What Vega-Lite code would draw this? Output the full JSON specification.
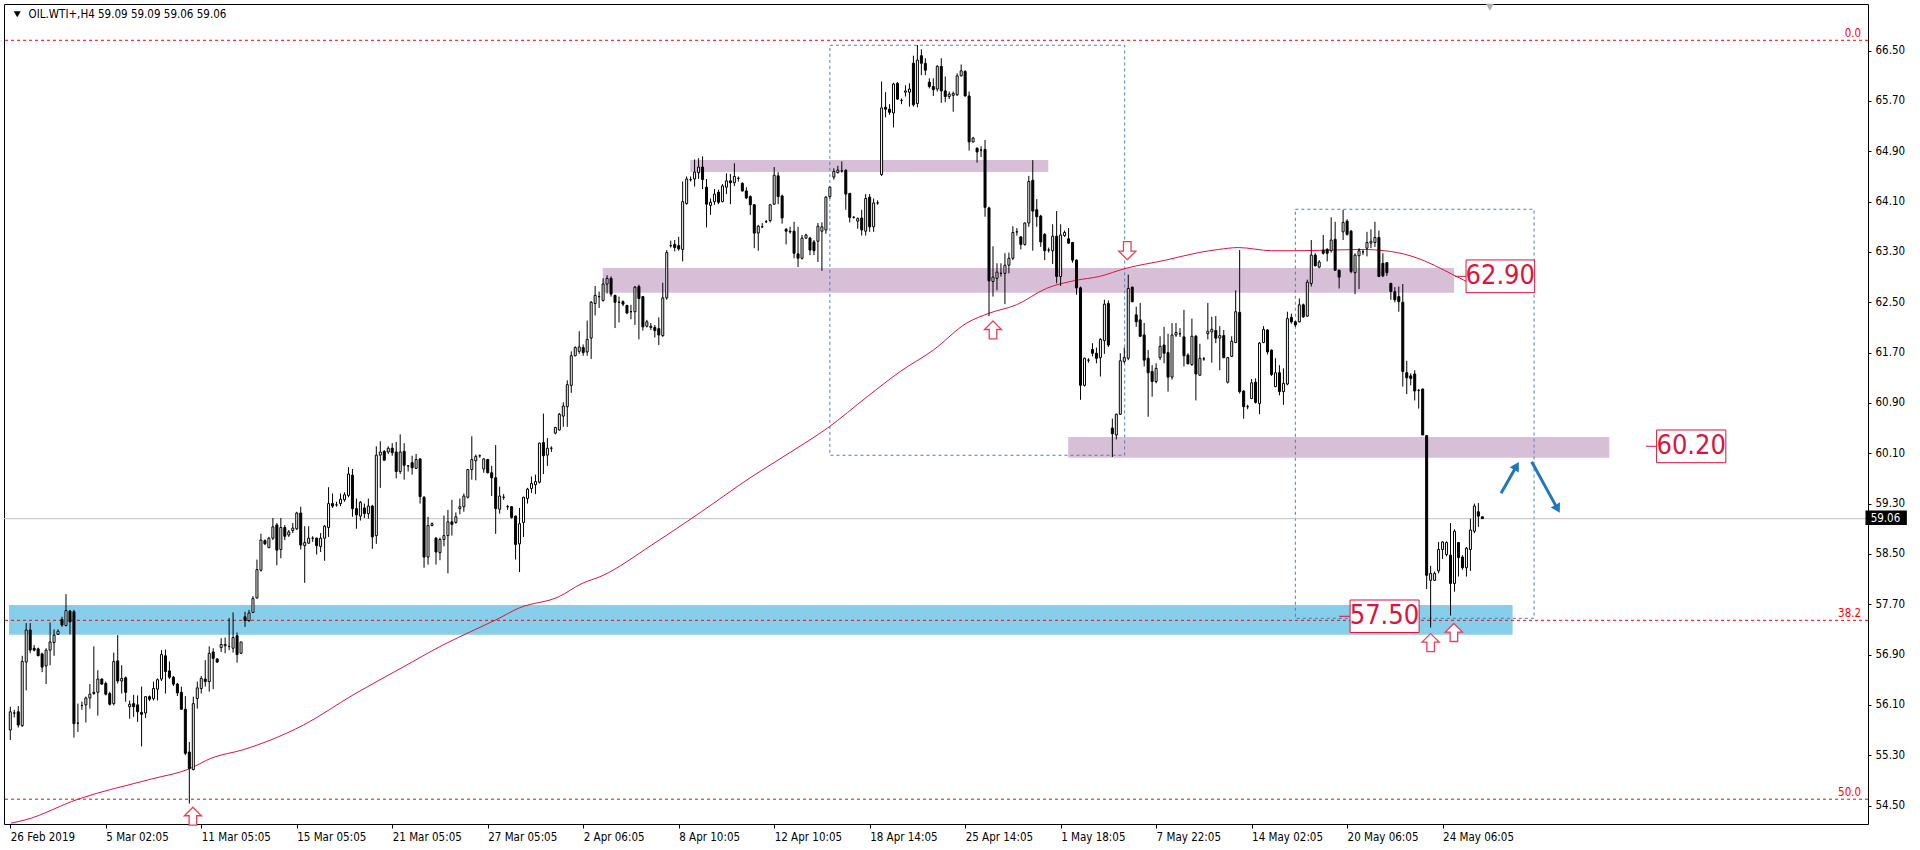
{
"$schema":"https://vega.github.io/schema/vega-lite/v6.json",
"width":1864,"height":820,
"autosize":{"type":"none"},
"padding":{"left":4,"top":4,"right":52,"bottom":26},
"background":"white",
"config":{"view":{"stroke":"black","strokeWidth":1},"font":"DejaVu Sans Condensed, DejaVu Sans, sans-serif","axis":{"grid":false,"domain":false,"tickColor":"black","labelColor":"black","labelFontSize":11.5,"labelFont":"DejaVu Sans Condensed, DejaVu Sans, sans-serif","labelOverlap":false,"labelFlush":false}},
"datasets":{
"candles":[
{"i":0,"o":55.70,"h":56.07,"l":55.54,"c":55.99},{"i":1,"o":55.97,"h":56.02,"l":55.90,"c":55.97},{"i":2,"o":55.99,"h":56.08,"l":55.74,"c":55.78},{"i":3,"o":55.77,"h":56.88,"l":55.75,"c":56.79},{"i":4,"o":56.78,"h":57.40,"l":56.33,"c":57.29},{"i":5,"o":57.29,"h":57.40,"l":56.92,"c":56.97},{"i":6,"o":57.00,"h":57.05,"l":56.95,"c":56.97},{"i":7,"o":56.99,"h":57.01,"l":56.88,"c":56.88},{"i":8,"o":56.91,"h":56.93,"l":56.62,"c":56.70},{"i":9,"o":56.72,"h":57.00,"l":56.43,"c":56.97},
{"i":10,"o":56.97,"h":57.41,"l":56.73,"c":57.10},{"i":11,"o":57.09,"h":57.30,"l":56.88,"c":57.21},{"i":12,"o":57.22,"h":57.30,"l":57.21,"c":57.27},{"i":13,"o":57.46,"h":57.50,"l":57.34,"c":57.37},{"i":14,"o":57.36,"h":57.86,"l":57.35,"c":57.60},{"i":15,"o":57.59,"h":57.61,"l":57.22,"c":57.42},{"i":16,"o":57.58,"h":57.61,"l":55.58,"c":55.80},{"i":17,"o":55.81,"h":56.12,"l":55.67,"c":55.81},{"i":18,"o":56.09,"h":56.15,"l":56.02,"c":56.09},{"i":19,"o":56.10,"h":56.23,"l":55.82,"c":56.21},
{"i":20,"o":56.21,"h":56.43,"l":56.04,"c":56.27},{"i":21,"o":56.28,"h":57.03,"l":56.26,"c":56.30},{"i":22,"o":56.30,"h":56.65,"l":55.93,"c":56.51},{"i":23,"o":56.51,"h":56.52,"l":56.42,"c":56.43},{"i":24,"o":56.44,"h":56.47,"l":56.25,"c":56.27},{"i":25,"o":56.28,"h":56.31,"l":56.09,"c":56.11},{"i":26,"o":56.12,"h":56.93,"l":56.09,"c":56.79},{"i":27,"o":56.80,"h":57.21,"l":56.44,"c":56.48},{"i":28,"o":56.48,"h":56.73,"l":56.28,"c":56.52},{"i":29,"o":56.53,"h":56.55,"l":56.15,"c":56.30},
{"i":30,"o":56.07,"h":56.17,"l":55.88,"c":56.11},{"i":31,"o":56.12,"h":56.26,"l":55.91,"c":56.07},{"i":32,"o":56.10,"h":56.25,"l":55.83,"c":55.99},{"i":33,"o":55.98,"h":56.39,"l":55.44,"c":55.95},{"i":34,"o":55.97,"h":56.24,"l":55.89,"c":56.23},{"i":35,"o":56.23,"h":56.25,"l":56.16,"c":56.19},{"i":36,"o":56.20,"h":56.47,"l":56.17,"c":56.36},{"i":37,"o":56.35,"h":56.52,"l":56.17,"c":56.50},{"i":38,"o":56.51,"h":56.97,"l":56.48,"c":56.90},{"i":39,"o":56.88,"h":56.98,"l":56.28,"c":56.63},
{"i":40,"o":56.64,"h":56.79,"l":56.51,"c":56.54},{"i":41,"o":56.54,"h":56.56,"l":56.40,"c":56.43},{"i":42,"o":56.43,"h":56.45,"l":56.24,"c":56.29},{"i":43,"o":56.30,"h":56.39,"l":56.02,"c":56.03},{"i":44,"o":56.03,"h":56.24,"l":55.30,"c":55.33},{"i":45,"o":55.35,"h":55.51,"l":54.53,"c":55.09},{"i":46,"o":55.07,"h":56.23,"l":55.06,"c":56.12},{"i":47,"o":56.20,"h":56.47,"l":56.04,"c":56.37},{"i":48,"o":56.36,"h":56.56,"l":56.28,"c":56.52},{"i":49,"o":56.51,"h":56.81,"l":56.39,"c":56.47},
{"i":50,"o":56.47,"h":57.03,"l":56.31,"c":56.92},{"i":51,"o":56.94,"h":57.00,"l":56.35,"c":56.84},{"i":52,"o":56.83,"h":56.84,"l":56.77,"c":56.78},{"i":53,"o":57.01,"h":57.16,"l":56.94,"c":57.06},{"i":54,"o":57.04,"h":57.17,"l":56.92,"c":57.06},{"i":55,"o":57.03,"h":57.48,"l":56.97,"c":57.03},{"i":56,"o":57.00,"h":57.57,"l":56.93,"c":57.17},{"i":57,"o":57.20,"h":57.25,"l":56.77,"c":56.90},{"i":58,"o":56.92,"h":57.10,"l":56.91,"c":57.10},{"i":59,"o":57.50,"h":57.58,"l":57.34,"c":57.44},
{"i":60,"o":57.44,"h":57.61,"l":57.42,"c":57.56},{"i":61,"o":57.57,"h":57.83,"l":57.56,"c":57.79},{"i":62,"o":57.80,"h":58.41,"l":57.79,"c":58.25},{"i":63,"o":58.24,"h":58.82,"l":58.22,"c":58.72},{"i":64,"o":58.71,"h":58.73,"l":58.64,"c":58.66},{"i":65,"o":58.60,"h":58.77,"l":58.59,"c":58.75},{"i":66,"o":58.75,"h":59.07,"l":58.72,"c":58.93},{"i":67,"o":58.96,"h":58.99,"l":58.32,"c":58.56},{"i":68,"o":58.57,"h":59.07,"l":58.43,"c":58.92},{"i":69,"o":58.92,"h":58.96,"l":58.72,"c":58.78},
{"i":70,"o":58.80,"h":58.88,"l":58.77,"c":58.85},{"i":71,"o":58.87,"h":58.99,"l":58.83,"c":58.91},{"i":72,"o":58.90,"h":59.17,"l":58.88,"c":59.15},{"i":73,"o":59.15,"h":59.25,"l":58.57,"c":58.64},{"i":74,"o":58.63,"h":58.94,"l":58.04,"c":58.68},{"i":75,"o":58.67,"h":58.94,"l":58.66,"c":58.75},{"i":76,"o":58.75,"h":58.78,"l":58.69,"c":58.75},{"i":77,"o":58.75,"h":58.76,"l":58.49,"c":58.63},{"i":78,"o":58.62,"h":58.83,"l":58.53,"c":58.75},{"i":79,"o":58.75,"h":58.96,"l":58.39,"c":58.94},
{"i":80,"o":58.92,"h":59.56,"l":58.77,"c":59.30},{"i":81,"o":59.30,"h":59.46,"l":59.23,"c":59.26},{"i":82,"o":59.28,"h":59.33,"l":59.25,"c":59.28},{"i":83,"o":59.30,"h":59.46,"l":59.26,"c":59.37},{"i":84,"o":59.36,"h":59.48,"l":59.33,"c":59.44},{"i":85,"o":59.43,"h":59.88,"l":59.40,"c":59.77},{"i":86,"o":59.75,"h":59.85,"l":59.09,"c":59.22},{"i":87,"o":59.22,"h":59.38,"l":58.90,"c":59.12},{"i":88,"o":59.10,"h":59.34,"l":59.03,"c":59.32},{"i":89,"o":59.23,"h":59.30,"l":59.07,"c":59.14},
{"i":90,"o":59.14,"h":59.38,"l":59.06,"c":59.26},{"i":91,"o":59.26,"h":59.28,"l":58.58,"c":58.77},{"i":92,"o":58.79,"h":60.21,"l":58.66,"c":60.07},{"i":93,"o":60.07,"h":60.29,"l":59.55,"c":60.12},{"i":94,"o":60.13,"h":60.15,"l":59.98,"c":59.99},{"i":95,"o":60.12,"h":60.21,"l":60.09,"c":60.18},{"i":96,"o":60.18,"h":60.26,"l":60.06,"c":60.11},{"i":97,"o":60.12,"h":60.28,"l":59.70,"c":59.81},{"i":98,"o":59.81,"h":60.40,"l":59.77,"c":60.12},{"i":99,"o":60.13,"h":60.26,"l":59.68,"c":59.91},
{"i":100,"o":59.90,"h":59.91,"l":59.81,"c":59.90},{"i":101,"o":59.95,"h":60.06,"l":59.76,"c":59.87},{"i":102,"o":59.86,"h":60.09,"l":59.85,"c":60.00},{"i":103,"o":60.01,"h":60.02,"l":59.30,"c":59.41},{"i":104,"o":59.40,"h":59.42,"l":58.28,"c":58.45},{"i":105,"o":58.45,"h":59.09,"l":58.33,"c":58.95},{"i":106,"o":58.95,"h":59.00,"l":58.94,"c":58.98},{"i":107,"o":58.75,"h":58.77,"l":58.33,"c":58.53},{"i":108,"o":58.52,"h":58.76,"l":58.40,"c":58.73},{"i":109,"o":58.73,"h":59.11,"l":58.62,"c":58.79},
{"i":110,"o":58.79,"h":59.20,"l":58.19,"c":59.01},{"i":111,"o":59.01,"h":59.36,"l":58.79,"c":58.97},{"i":112,"o":59.00,"h":59.16,"l":58.98,"c":59.09},{"i":113,"o":59.22,"h":59.38,"l":59.13,"c":59.25},{"i":114,"o":59.25,"h":59.46,"l":59.17,"c":59.42},{"i":115,"o":59.40,"h":59.85,"l":59.38,"c":59.84},{"i":116,"o":59.84,"h":60.37,"l":59.68,"c":60.00},{"i":117,"o":59.98,"h":60.08,"l":59.67,"c":60.05},{"i":118,"o":60.06,"h":60.08,"l":60.03,"c":60.06},{"i":119,"o":59.85,"h":60.02,"l":59.79,"c":60.01},
{"i":120,"o":60.00,"h":60.01,"l":59.78,"c":59.79},{"i":121,"o":59.79,"h":59.90,"l":59.42,"c":59.71},{"i":122,"o":59.71,"h":60.23,"l":58.82,"c":59.22},{"i":123,"o":59.21,"h":59.57,"l":59.14,"c":59.42},{"i":124,"o":59.40,"h":59.45,"l":59.36,"c":59.40},{"i":125,"o":59.25,"h":59.28,"l":59.20,"c":59.25},{"i":126,"o":59.25,"h":59.26,"l":59.06,"c":59.08},{"i":127,"o":59.10,"h":59.11,"l":58.41,"c":58.65},{"i":128,"o":58.66,"h":59.23,"l":58.21,"c":58.98},{"i":129,"o":59.00,"h":59.41,"l":58.77,"c":59.40},
{"i":130,"o":59.38,"h":59.55,"l":59.30,"c":59.53},{"i":131,"o":59.54,"h":59.73,"l":59.47,"c":59.62},{"i":132,"o":59.60,"h":59.76,"l":59.45,"c":59.65},{"i":133,"o":59.64,"h":60.27,"l":59.62,"c":60.26},{"i":134,"o":60.27,"h":60.73,"l":59.77,"c":60.06},{"i":135,"o":60.07,"h":60.34,"l":59.90,"c":60.18},{"i":136,"o":60.18,"h":60.21,"l":60.12,"c":60.18},{"i":137,"o":60.42,"h":60.52,"l":60.40,"c":60.51},{"i":138,"o":60.47,"h":60.74,"l":60.46,"c":60.72},{"i":139,"o":60.69,"h":60.91,"l":60.52,"c":60.85},
{"i":140,"o":60.84,"h":61.26,"l":60.52,"c":61.19},{"i":141,"o":61.18,"h":61.72,"l":61.06,"c":61.65},{"i":142,"o":61.65,"h":61.80,"l":61.64,"c":61.78},{"i":143,"o":61.72,"h":62.04,"l":61.68,"c":61.79},{"i":144,"o":61.78,"h":61.83,"l":61.65,"c":61.70},{"i":145,"o":61.71,"h":62.21,"l":61.65,"c":61.91},{"i":146,"o":61.93,"h":62.52,"l":61.60,"c":62.50},{"i":147,"o":62.48,"h":62.76,"l":62.29,"c":62.61},{"i":148,"o":62.59,"h":62.67,"l":62.41,"c":62.59},{"i":149,"o":62.53,"h":62.88,"l":62.51,"c":62.79},
{"i":150,"o":62.79,"h":62.93,"l":62.64,"c":62.88},{"i":151,"o":62.88,"h":62.91,"l":62.59,"c":62.63},{"i":152,"o":62.61,"h":62.62,"l":62.09,"c":62.50},{"i":153,"o":62.50,"h":62.59,"l":62.18,"c":62.50},{"i":154,"o":62.51,"h":62.53,"l":62.44,"c":62.47},{"i":155,"o":62.45,"h":62.46,"l":62.31,"c":62.33},{"i":156,"o":62.35,"h":62.46,"l":62.23,"c":62.35},{"i":157,"o":62.35,"h":62.76,"l":62.14,"c":62.74},{"i":158,"o":62.75,"h":62.78,"l":61.91,"c":62.56},{"i":159,"o":62.59,"h":62.60,"l":62.05,"c":62.11},
{"i":160,"o":62.12,"h":62.22,"l":62.10,"c":62.19},{"i":161,"o":62.10,"h":62.17,"l":62.06,"c":62.12},{"i":162,"o":62.10,"h":62.14,"l":61.94,"c":62.05},{"i":163,"o":62.08,"h":62.26,"l":61.82,"c":61.98},{"i":164,"o":61.97,"h":62.81,"l":61.95,"c":62.57},{"i":165,"o":62.57,"h":63.33,"l":62.54,"c":63.29},{"i":166,"o":63.40,"h":63.48,"l":63.37,"c":63.40},{"i":167,"o":63.42,"h":63.49,"l":63.31,"c":63.37},{"i":168,"o":63.40,"h":63.54,"l":63.32,"c":63.35},{"i":169,"o":63.34,"h":64.42,"l":63.15,"c":64.10},
{"i":170,"o":64.07,"h":64.50,"l":64.05,"c":64.46},{"i":171,"o":64.45,"h":64.50,"l":64.42,"c":64.45},{"i":172,"o":64.46,"h":64.77,"l":64.34,"c":64.57},{"i":173,"o":64.56,"h":64.79,"l":64.46,"c":64.65},{"i":174,"o":64.65,"h":64.82,"l":64.30,"c":64.45},{"i":175,"o":64.33,"h":64.46,"l":63.69,"c":64.06},{"i":176,"o":64.04,"h":64.15,"l":63.89,"c":64.09},{"i":177,"o":64.10,"h":64.30,"l":64.05,"c":64.22},{"i":178,"o":64.25,"h":64.29,"l":64.06,"c":64.09},{"i":179,"o":64.10,"h":64.38,"l":64.09,"c":64.35},
{"i":180,"o":64.33,"h":64.55,"l":64.22,"c":64.43},{"i":181,"o":64.43,"h":64.54,"l":64.06,"c":64.40},{"i":182,"o":64.40,"h":64.71,"l":64.35,"c":64.50},{"i":183,"o":64.47,"h":64.50,"l":64.42,"c":64.47},{"i":184,"o":64.39,"h":64.41,"l":64.26,"c":64.27},{"i":185,"o":64.27,"h":64.33,"l":64.14,"c":64.16},{"i":186,"o":64.18,"h":64.20,"l":63.89,"c":64.05},{"i":187,"o":64.05,"h":64.06,"l":63.36,"c":63.60},{"i":188,"o":63.60,"h":63.73,"l":63.32,"c":63.71},{"i":189,"o":63.70,"h":63.76,"l":63.68,"c":63.70},
{"i":190,"o":63.78,"h":63.81,"l":63.76,"c":63.78},{"i":191,"o":63.80,"h":64.06,"l":63.77,"c":64.05},{"i":192,"o":64.06,"h":64.65,"l":64.05,"c":64.52},{"i":193,"o":64.51,"h":64.57,"l":64.06,"c":64.18},{"i":194,"o":64.19,"h":64.21,"l":63.75,"c":63.84},{"i":195,"o":63.66,"h":63.68,"l":63.42,"c":63.63},{"i":196,"o":63.63,"h":63.70,"l":63.59,"c":63.62},{"i":197,"o":63.63,"h":63.78,"l":63.20,"c":63.28},{"i":198,"o":63.27,"h":63.70,"l":63.06,"c":63.20},{"i":199,"o":63.20,"h":63.57,"l":63.18,"c":63.52},
{"i":200,"o":63.52,"h":63.59,"l":63.51,"c":63.57},{"i":201,"o":63.52,"h":63.54,"l":63.25,"c":63.33},{"i":202,"o":63.46,"h":63.49,"l":63.25,"c":63.32},{"i":203,"o":63.47,"h":63.76,"l":63.14,"c":63.71},{"i":204,"o":63.63,"h":63.77,"l":63.00,"c":63.70},{"i":205,"o":63.65,"h":64.19,"l":63.59,"c":64.17},{"i":206,"o":64.18,"h":64.34,"l":64.15,"c":64.33},{"i":207,"o":64.49,"h":64.63,"l":64.45,"c":64.58},{"i":208,"o":64.56,"h":64.67,"l":64.55,"c":64.60},{"i":209,"o":64.59,"h":64.74,"l":64.56,"c":64.59},
{"i":210,"o":64.60,"h":64.61,"l":63.97,"c":64.22},{"i":211,"o":64.23,"h":64.24,"l":63.77,"c":63.85},{"i":212,"o":63.85,"h":63.87,"l":63.83,"c":63.85},{"i":213,"o":63.79,"h":63.85,"l":63.67,"c":63.83},{"i":214,"o":63.84,"h":63.97,"l":63.56,"c":63.65},{"i":215,"o":63.63,"h":64.22,"l":63.56,"c":64.15},{"i":216,"o":64.17,"h":64.22,"l":63.62,"c":63.70},{"i":217,"o":63.70,"h":64.15,"l":63.62,"c":64.08},{"i":218,"o":64.08,"h":64.12,"l":64.05,"c":64.08},{"i":219,"o":64.53,"h":66.01,"l":64.51,"c":65.59},
{"i":220,"o":65.60,"h":65.84,"l":65.44,"c":65.57},{"i":221,"o":65.57,"h":65.65,"l":65.48,"c":65.52},{"i":222,"o":65.51,"h":65.99,"l":65.28,"c":65.97},{"i":223,"o":65.98,"h":66.00,"l":65.72,"c":65.73},{"i":224,"o":65.71,"h":65.74,"l":65.65,"c":65.71},{"i":225,"o":65.84,"h":65.95,"l":65.77,"c":65.86},{"i":226,"o":65.84,"h":65.98,"l":65.61,"c":65.89},{"i":227,"o":66.30,"h":66.42,"l":65.61,"c":65.64},{"i":228,"o":65.66,"h":66.59,"l":65.60,"c":66.35},{"i":229,"o":66.42,"h":66.52,"l":66.11,"c":66.30},
{"i":230,"o":66.30,"h":66.38,"l":66.11,"c":66.19},{"i":231,"o":66.00,"h":66.06,"l":65.90,"c":65.93},{"i":232,"o":65.93,"h":66.06,"l":65.78,"c":65.88},{"i":233,"o":65.89,"h":66.27,"l":65.85,"c":66.25},{"i":234,"o":66.25,"h":66.38,"l":65.67,"c":65.86},{"i":235,"o":65.86,"h":66.09,"l":65.68,"c":65.77},{"i":236,"o":65.77,"h":65.85,"l":65.73,"c":65.81},{"i":237,"o":65.79,"h":65.85,"l":65.53,"c":65.82},{"i":238,"o":65.80,"h":66.14,"l":65.78,"c":66.10},{"i":239,"o":66.10,"h":66.28,"l":66.09,"c":66.18},
{"i":240,"o":66.17,"h":66.19,"l":65.77,"c":65.78},{"i":241,"o":65.78,"h":65.85,"l":64.91,"c":65.05},{"i":242,"o":65.05,"h":65.13,"l":65.04,"c":65.11},{"i":243,"o":64.95,"h":64.96,"l":64.72,"c":64.89},{"i":244,"o":64.92,"h":64.98,"l":64.81,"c":64.92},{"i":245,"o":64.93,"h":65.08,"l":63.86,"c":64.01},{"i":246,"o":64.00,"h":64.02,"l":62.28,"c":62.84},{"i":247,"o":62.83,"h":63.39,"l":62.59,"c":62.90},{"i":248,"o":62.88,"h":63.12,"l":62.69,"c":62.98},{"i":249,"o":62.96,"h":63.12,"l":62.91,"c":62.96},
{"i":250,"o":62.96,"h":63.28,"l":62.47,"c":63.09},{"i":251,"o":63.09,"h":63.29,"l":62.96,"c":63.20},{"i":252,"o":63.20,"h":63.71,"l":63.17,"c":63.61},{"i":253,"o":63.62,"h":63.68,"l":63.56,"c":63.62},{"i":254,"o":63.54,"h":63.55,"l":63.34,"c":63.42},{"i":255,"o":63.42,"h":63.77,"l":63.40,"c":63.76},{"i":256,"o":63.76,"h":64.51,"l":63.70,"c":64.42},{"i":257,"o":64.44,"h":64.76,"l":63.32,"c":63.95},{"i":258,"o":63.97,"h":64.14,"l":63.70,"c":63.86},{"i":259,"o":63.87,"h":63.89,"l":63.38,"c":63.46},
{"i":260,"o":63.58,"h":63.60,"l":63.17,"c":63.32},{"i":261,"o":63.33,"h":63.37,"l":63.29,"c":63.33},{"i":262,"o":63.32,"h":63.74,"l":63.11,"c":63.55},{"i":263,"o":63.55,"h":63.95,"l":62.80,"c":62.91},{"i":264,"o":62.91,"h":63.74,"l":62.76,"c":63.57},{"i":265,"o":63.56,"h":63.64,"l":63.54,"c":63.61},{"i":266,"o":63.51,"h":63.68,"l":63.43,"c":63.44},{"i":267,"o":63.45,"h":63.46,"l":63.13,"c":63.17},{"i":268,"o":63.17,"h":63.18,"l":62.62,"c":62.73},{"i":269,"o":62.73,"h":62.75,"l":60.95,"c":61.18},
{"i":270,"o":61.18,"h":61.62,"l":61.16,"c":61.61},{"i":271,"o":61.58,"h":61.61,"l":61.54,"c":61.58},{"i":272,"o":61.75,"h":61.85,"l":61.64,"c":61.69},{"i":273,"o":61.69,"h":61.78,"l":61.53,"c":61.61},{"i":274,"o":61.62,"h":61.93,"l":61.32,"c":61.91},{"i":275,"o":61.89,"h":62.54,"l":61.68,"c":62.47},{"i":276,"o":62.48,"h":62.53,"l":61.79,"c":61.82},{"i":277,"o":60.50,"h":60.65,"l":60.04,"c":60.41},{"i":278,"o":60.39,"h":60.73,"l":60.32,"c":60.72},{"i":279,"o":60.72,"h":61.69,"l":60.71,"c":61.57},
{"i":280,"o":61.56,"h":61.78,"l":61.53,"c":61.62},{"i":281,"o":61.61,"h":62.94,"l":61.58,"c":62.72},{"i":282,"o":62.74,"h":62.75,"l":62.50,"c":62.51},{"i":283,"o":62.30,"h":62.43,"l":62.11,"c":62.19},{"i":284,"o":62.22,"h":62.49,"l":61.95,"c":61.96},{"i":285,"o":61.98,"h":62.17,"l":61.48,"c":61.58},{"i":286,"o":61.61,"h":61.74,"l":60.68,"c":61.38},{"i":287,"o":61.40,"h":61.50,"l":61.00,"c":61.24},{"i":288,"o":61.24,"h":61.53,"l":61.21,"c":61.45},{"i":289,"o":61.62,"h":61.96,"l":61.58,"c":61.80},
{"i":290,"o":61.82,"h":62.11,"l":61.53,"c":61.69},{"i":291,"o":61.70,"h":62.00,"l":61.08,"c":61.31},{"i":292,"o":61.31,"h":62.17,"l":61.27,"c":61.98},{"i":293,"o":61.98,"h":62.17,"l":61.95,"c":62.02},{"i":294,"o":62.00,"h":62.09,"l":61.95,"c":62.00},{"i":295,"o":61.95,"h":62.38,"l":61.48,"c":61.65},{"i":296,"o":61.66,"h":61.69,"l":61.52,"c":61.52},{"i":297,"o":61.51,"h":62.24,"l":61.49,"c":61.96},{"i":298,"o":61.96,"h":61.98,"l":60.94,"c":61.36},{"i":299,"o":61.34,"h":61.84,"l":61.34,"c":61.61},
{"i":300,"o":61.60,"h":61.63,"l":61.57,"c":61.60},{"i":301,"o":62.00,"h":62.49,"l":61.91,"c":62.04},{"i":302,"o":62.03,"h":62.27,"l":61.54,"c":62.07},{"i":303,"o":62.05,"h":62.28,"l":61.85,"c":61.93},{"i":304,"o":61.93,"h":62.12,"l":61.42,"c":61.97},{"i":305,"o":61.97,"h":62.06,"l":61.61,"c":61.62},{"i":306,"o":61.23,"h":61.63,"l":61.21,"c":61.62},{"i":307,"o":61.64,"h":61.96,"l":61.63,"c":61.88},{"i":308,"o":61.86,"h":62.69,"l":61.85,"c":62.35},{"i":309,"o":62.34,"h":63.33,"l":61.05,"c":61.08},
{"i":310,"o":61.09,"h":61.10,"l":60.65,"c":60.84},{"i":311,"o":60.84,"h":60.87,"l":60.80,"c":60.84},{"i":312,"o":60.97,"h":61.28,"l":60.96,"c":61.22},{"i":313,"o":61.23,"h":61.29,"l":60.89,"c":60.91},{"i":314,"o":60.89,"h":61.87,"l":60.72,"c":61.85},{"i":315,"o":61.86,"h":62.12,"l":61.85,"c":62.07},{"i":316,"o":62.06,"h":62.07,"l":61.67,"c":61.71},{"i":317,"o":61.74,"h":61.75,"l":61.33,"c":61.35},{"i":318,"o":61.16,"h":61.61,"l":61.15,"c":61.38},{"i":319,"o":61.38,"h":61.50,"l":61.02,"c":61.08},
{"i":320,"o":61.08,"h":61.45,"l":60.87,"c":61.21},{"i":321,"o":61.20,"h":62.35,"l":61.18,"c":62.24},{"i":322,"o":62.26,"h":62.32,"l":62.16,"c":62.19},{"i":323,"o":62.19,"h":62.20,"l":62.11,"c":62.14},{"i":324,"o":62.19,"h":62.56,"l":62.18,"c":62.46},{"i":325,"o":62.46,"h":62.48,"l":62.25,"c":62.27},{"i":326,"o":62.28,"h":62.86,"l":62.27,"c":62.82},{"i":327,"o":62.80,"h":63.49,"l":62.75,"c":63.25},{"i":328,"o":63.25,"h":63.28,"l":63.07,"c":63.08},{"i":329,"o":63.06,"h":63.17,"l":63.04,"c":63.14},
{"i":330,"o":63.33,"h":63.57,"l":63.26,"c":63.28},{"i":331,"o":63.34,"h":63.36,"l":63.15,"c":63.28},{"i":332,"o":63.32,"h":63.85,"l":63.29,"c":63.49},{"i":333,"o":63.50,"h":63.78,"l":63.00,"c":63.01},{"i":334,"o":63.01,"h":63.02,"l":62.72,"c":62.90},{"i":335,"o":63.62,"h":63.97,"l":63.49,"c":63.77},{"i":336,"o":63.79,"h":63.82,"l":63.56,"c":63.58},{"i":337,"o":63.63,"h":63.65,"l":62.96,"c":62.99},{"i":338,"o":62.97,"h":63.28,"l":62.63,"c":63.25},{"i":339,"o":63.24,"h":63.36,"l":62.71,"c":63.32},
{"i":340,"o":63.30,"h":63.33,"l":63.25,"c":63.30},{"i":341,"o":63.36,"h":63.62,"l":63.23,"c":63.45},{"i":342,"o":63.44,"h":63.66,"l":63.36,"c":63.47},{"i":343,"o":63.45,"h":63.78,"l":63.38,"c":63.53},{"i":344,"o":63.53,"h":63.64,"l":62.90,"c":62.91},{"i":345,"o":63.12,"h":63.28,"l":62.90,"c":62.92},{"i":346,"o":63.13,"h":63.14,"l":62.92,"c":62.97},{"i":347,"o":62.80,"h":62.81,"l":62.54,"c":62.67},{"i":348,"o":62.67,"h":62.74,"l":62.50,"c":62.54},{"i":349,"o":62.59,"h":62.75,"l":62.35,"c":62.51},
{"i":350,"o":62.50,"h":62.79,"l":61.16,"c":61.40},{"i":351,"o":61.38,"h":61.57,"l":61.04,"c":61.30},{"i":352,"o":61.33,"h":61.37,"l":61.18,"c":61.29},{"i":353,"o":61.36,"h":61.42,"l":60.94,"c":61.09},{"i":354,"o":61.10,"h":61.12,"l":60.81,"c":61.10},{"i":355,"o":61.12,"h":61.13,"l":60.39,"c":60.39},{"i":356,"o":60.38,"h":60.39,"l":57.94,"c":58.16},{"i":357,"o":58.08,"h":58.31,"l":57.33,"c":58.19},{"i":358,"o":58.08,"h":58.22,"l":58.07,"c":58.19},{"i":359,"o":58.23,"h":58.69,"l":58.19,"c":58.57},
{"i":360,"o":58.57,"h":58.70,"l":58.42,"c":58.69},{"i":361,"o":58.49,"h":58.70,"l":58.46,"c":58.68},{"i":362,"o":58.48,"h":58.99,"l":57.52,"c":58.03},{"i":363,"o":58.03,"h":58.89,"l":57.90,"c":58.86},{"i":364,"o":58.68,"h":58.69,"l":58.14,"c":58.44},{"i":365,"o":58.45,"h":58.48,"l":58.25,"c":58.28},{"i":366,"o":58.28,"h":58.61,"l":58.14,"c":58.59},{"i":367,"o":58.57,"h":59.06,"l":58.23,"c":58.88},{"i":368,"o":58.86,"h":59.30,"l":58.83,"c":59.26},{"i":369,"o":59.17,"h":59.31,"l":58.93,"c":59.10},
{"i":370,"o":59.09,"h":59.09,"l":59.06,"c":59.06}
],
"ma":[
{"i":0.2,"v":54.22},{"i":3.7,"v":54.27},{"i":17,"v":54.60},{"i":35.4,"v":54.92},{"i":44.9,"v":55.08},{"i":50.4,"v":55.25},{"i":58.7,"v":55.39},{"i":65.4,"v":55.54},{"i":73.7,"v":55.78},{"i":86.2,"v":56.26},{"i":98.7,"v":56.70},{"i":108.7,"v":57.05},{"i":116.6,"v":57.29},{"i":122,"v":57.45},{"i":127.9,"v":57.64},{"i":137.9,"v":57.82},{"i":143.7,"v":58.03},{"i":148.7,"v":58.15},{"i":161.2,"v":58.64},{"i":173.7,"v":59.17},{"i":186.2,"v":59.72},{"i":196.2,"v":60.12},{"i":205.4,"v":60.50},{"i":215.4,"v":61.00},{"i":223.7,"v":61.40},{"i":232,"v":61.74},{"i":240.4,"v":62.17},{"i":246.2,"v":62.33},{"i":252.9,"v":62.46},{"i":260.4,"v":62.72},{"i":267.9,"v":62.85},{"i":273.7,"v":62.91},{"i":280.4,"v":63.04},{"i":290.4,"v":63.17},{"i":298.7,"v":63.29},{"i":303.7,"v":63.34},{"i":308.7,"v":63.37},{"i":317,"v":63.32},{"i":322.9,"v":63.32},{"i":332,"v":63.33},{"i":340.4,"v":63.34},{"i":345.3,"v":63.32},{"i":348.7,"v":63.29},{"i":355.4,"v":63.16},{"i":360.4,"v":63.01},{"i":365.4,"v":62.85},{"i":369.7,"v":62.72}
]
},
"layer":[
{"data":{"values":[{"x1":-0.325,"x2":377.6,"y1":57.215,"y2":57.688}]},
 "mark":{"type":"rect","fill":"#87CEEB"},
 "encoding":{"x":{"field":"x1","type":"quantitative","title":null,"scale":{"domain":[-0.325,465.675],"nice":false,"zero":false},
   "axis":{"values":[0,24,48,72,96,120,144,168,192,216,240,264,288,312,336,360],"title":null,"grid":false,"domain":false,"tickColor":"black","tickSize":4,"labelPadding":3,"labelBaseline":"top","labelAlign":"left","labelFontSize":11.5,"labelColor":"black","labelOverlap":false,"labelFlush":false,
   "labelExpr":"['26 Feb 2019','5 Mar 02:05','11 Mar 05:05','15 Mar 05:05','21 Mar 05:05','27 Mar 05:05','2 Apr 06:05','8 Apr 10:05','12 Apr 10:05','18 Apr 14:05','25 Apr 14:05','1 May 18:05','7 May 22:05','14 May 02:05','20 May 06:05','24 May 06:05'][round(datum.value/24)]"}},
  "x2":{"field":"x2"},
  "y":{"field":"y1","type":"quantitative","title":null,"scale":{"domain":[54.206,67.242],"nice":false,"zero":false},
   "axis":{"orient":"right","values":[66.5,65.7,64.9,64.1,63.3,62.5,61.7,60.9,60.1,59.3,58.5,57.7,56.9,56.1,55.3,54.5],"format":".2f","title":null,"grid":false,"domain":false,"tickColor":"black","tickSize":3,"labelPadding":4,"labelFontSize":11.5,"labelColor":"black","labelOverlap":false,"labelFlush":false}},
  "y2":{"field":"y2"}}},
{"data":{"values":[{"x1":170.9,"x2":260.9,"y1":64.571,"y2":64.762},{"x1":148.9,"x2":362.9,"y1":62.653,"y2":63.045},{"x1":265.9,"x2":401.9,"y1":60.030,"y2":60.359}]},
 "mark":{"type":"rect","fill":"#D8BFD8"},
 "encoding":{"x":{"field":"x1","type":"quantitative","title":null,"scale":{"domain":[-0.325,465.675],"nice":false,"zero":false}},"x2":{"field":"x2"},
  "y":{"field":"y1","type":"quantitative","title":null,"scale":{"domain":[54.206,67.242],"nice":false,"zero":false}},"y2":{"field":"y2"}}},
{"data":{"values":[{"x1":206,"x2":280.1,"y1":60.068,"y2":66.586},{"x1":323,"x2":383,"y1":57.476,"y2":63.979}]},
 "mark":{"type":"rect","fillOpacity":0,"stroke":"#4682B4","strokeWidth":1,"strokeDash":[3,3]},
 "encoding":{"x":{"field":"x1","type":"quantitative","title":null,"scale":{"domain":[-0.325,465.675],"nice":false,"zero":false}},"x2":{"field":"x2"},
  "y":{"field":"y1","type":"quantitative","title":null,"scale":{"domain":[54.206,67.242],"nice":false,"zero":false}},"y2":{"field":"y2"}}},
{"data":{"values":[{"p":66.665},{"p":57.444},{"p":54.60}]},
 "mark":{"type":"rule","color":"#FF0000","strokeWidth":1,"strokeDash":[3,3]},
 "encoding":{"y":{"field":"p","type":"quantitative","title":null,"scale":{"domain":[54.206,67.242],"nice":false,"zero":false}}}},
{"data":{"values":[{"p":59.06}]},
 "mark":{"type":"rule","color":"#C0C0C0","strokeWidth":1},
 "encoding":{"y":{"field":"p","type":"quantitative","title":null,"scale":{"domain":[54.206,67.242],"nice":false,"zero":false}}}},
{"data":{"name":"ma"},
 "mark":{"type":"line","color":"#DC143C","strokeWidth":1,"interpolate":"monotone"},
 "encoding":{"x":{"field":"i","type":"quantitative","title":null,"scale":{"domain":[-0.325,465.675],"nice":false,"zero":false}},
  "y":{"field":"v","type":"quantitative","title":null,"scale":{"domain":[54.206,67.242],"nice":false,"zero":false}}}},
{"data":{"name":"candles"},
 "mark":{"type":"rule","color":"black","strokeWidth":1},
 "encoding":{"x":{"field":"i","type":"quantitative","title":null,"scale":{"domain":[-0.325,465.675],"nice":false,"zero":false}},
  "y":{"field":"l","type":"quantitative","title":null,"scale":{"domain":[54.206,67.242],"nice":false,"zero":false}},"y2":{"field":"h"}}},
{"data":{"name":"candles"},
 "mark":{"type":"bar","size":2,"stroke":"black","strokeWidth":1},
 "encoding":{"x":{"field":"i","type":"quantitative","title":null,"scale":{"domain":[-0.325,465.675],"nice":false,"zero":false}},
  "y":{"field":"o","type":"quantitative","title":null,"scale":{"domain":[54.206,67.242],"nice":false,"zero":false}},"y2":{"field":"c"},
  "fill":{"condition":{"test":"datum.c >= datum.o","value":"white"},"value":"black"}}},
{"data":{"values":[{"i":45.9,"p":54.33},{"i":247,"p":62.06},{"i":357,"p":57.09},{"i":362.85,"p":57.25}]},
 "mark":{"type":"point","filled":true,"fill":"white","stroke":"#E8405A","strokeWidth":1.3,"opacity":1,"size":324,"shape":"M0,-1L0.95,-0.05L0.42,-0.05L0.42,1L-0.42,1L-0.42,-0.05L-0.95,-0.05Z"},
 "encoding":{"x":{"field":"i","type":"quantitative","title":null,"scale":{"domain":[-0.325,465.675],"nice":false,"zero":false}},
  "y":{"field":"p","type":"quantitative","title":null,"scale":{"domain":[54.206,67.242],"nice":false,"zero":false}}}},
{"data":{"values":[{"i":280.75,"p":63.32}]},
 "mark":{"type":"point","filled":true,"fill":"white","stroke":"#E8405A","strokeWidth":1.3,"opacity":1,"size":324,"shape":"M0,1L0.95,0.05L0.42,0.05L0.42,-1L-0.42,-1L-0.42,0.05L-0.95,0.05Z"},
 "encoding":{"x":{"field":"i","type":"quantitative","title":null,"scale":{"domain":[-0.325,465.675],"nice":false,"zero":false}},
  "y":{"field":"p","type":"quantitative","title":null,"scale":{"domain":[54.206,67.242],"nice":false,"zero":false}}}},
{"data":{"values":[{"x1":363.1,"x2":365.9,"p":62.913},{"x1":411.1,"x2":413.8,"p":60.211},{"x1":334,"x2":336.75,"p":57.508}]},
 "mark":{"type":"rule","color":"#DC143C","strokeWidth":1},
 "encoding":{"x":{"field":"x1","type":"quantitative","title":null,"scale":{"domain":[-0.325,465.675],"nice":false,"zero":false}},"x2":{"field":"x2"},
  "y":{"field":"p","type":"quantitative","title":null,"scale":{"domain":[54.206,67.242],"nice":false,"zero":false}}}},
{"data":{"values":[{"x1":365.9,"x2":383.15,"y1":62.653,"y2":63.173},{"x1":413.8,"x2":431.2,"y1":59.950,"y2":60.470},{"x1":336.75,"x2":354.1,"y1":57.25,"y2":57.767}]},
 "mark":{"type":"rect","fill":"white","stroke":"#DC143C","strokeWidth":1},
 "encoding":{"x":{"field":"x1","type":"quantitative","title":null,"scale":{"domain":[-0.325,465.675],"nice":false,"zero":false}},"x2":{"field":"x2"},
  "y":{"field":"y1","type":"quantitative","title":null,"scale":{"domain":[54.206,67.242],"nice":false,"zero":false}},"y2":{"field":"y2"}}},
{"data":{"values":[{"i":374.5,"p":62.913,"t":"62.90"},{"i":422.5,"p":60.211,"t":"60.20"},{"i":345.4,"p":57.508,"t":"57.50"}]},
 "mark":{"type":"text","color":"#DC143C","fontSize":27,"align":"center","baseline":"middle","font":"DejaVu Sans Condensed, Liberation Sans Narrow, DejaVu Sans, sans-serif"},
 "encoding":{"x":{"field":"i","type":"quantitative","title":null,"scale":{"domain":[-0.325,465.675],"nice":false,"zero":false}},
  "y":{"field":"p","type":"quantitative","title":null,"scale":{"domain":[54.206,67.242],"nice":false,"zero":false}},"text":{"field":"t"}}},
{"data":{"values":[{"x1":374.7,"x2":378.6,"y1":59.463,"y2":59.897},{"x1":382.4,"x2":388.9,"y1":59.966,"y2":59.216}]},
 "mark":{"type":"rule","color":"#1E78BE","strokeWidth":3},
 "encoding":{"x":{"field":"x1","type":"quantitative","title":null,"scale":{"domain":[-0.325,465.675],"nice":false,"zero":false}},"x2":{"field":"x2"},
  "y":{"field":"y1","type":"quantitative","title":null,"scale":{"domain":[54.206,67.242],"nice":false,"zero":false}},"y2":{"field":"y2"}}},
{"data":{"values":[{"i":378.6,"p":59.897}]},
 "mark":{"type":"point","shape":"triangle-up","angle":30,"filled":true,"color":"#1E78BE","opacity":1,"size":110},
 "encoding":{"x":{"field":"i","type":"quantitative","title":null,"scale":{"domain":[-0.325,465.675],"nice":false,"zero":false}},
  "y":{"field":"p","type":"quantitative","title":null,"scale":{"domain":[54.206,67.242],"nice":false,"zero":false}}}},
{"data":{"values":[{"i":388.9,"p":59.216}]},
 "mark":{"type":"point","shape":"triangle-down","angle":-28.6,"filled":true,"color":"#1E78BE","opacity":1,"size":110},
 "encoding":{"x":{"field":"i","type":"quantitative","title":null,"scale":{"domain":[-0.325,465.675],"nice":false,"zero":false}},
  "y":{"field":"p","type":"quantitative","title":null,"scale":{"domain":[54.206,67.242],"nice":false,"zero":false}}}},
{"data":{"values":[{"i":465.2,"p":66.665,"t":"0.0"},{"i":465.2,"p":57.444,"t":"38.2"},{"i":465.2,"p":54.60,"t":"50.0"}]},
 "mark":{"type":"text","color":"#FF0000","fontSize":11.5,"align":"right","baseline":"alphabetic","dy":-3},
 "encoding":{"x":{"field":"i","type":"quantitative","title":null,"scale":{"domain":[-0.325,465.675],"nice":false,"zero":false}},
  "y":{"field":"p","type":"quantitative","title":null,"scale":{"domain":[54.206,67.242],"nice":false,"zero":false}},"text":{"field":"t"}}},
{"data":{"values":[{"x1":466.3,"x2":476.7,"y1":58.96,"y2":59.19}]},
 "mark":{"type":"rect","fill":"black"},
 "encoding":{"x":{"field":"x1","type":"quantitative","title":null,"scale":{"domain":[-0.325,465.675],"nice":false,"zero":false}},"x2":{"field":"x2"},
  "y":{"field":"y1","type":"quantitative","title":null,"scale":{"domain":[54.206,67.242],"nice":false,"zero":false}},"y2":{"field":"y2"}}},
{"data":{"values":[{"i":467.6,"p":59.06,"t":"59.06"}]},
 "mark":{"type":"text","color":"white","fontSize":11.5,"align":"left","baseline":"middle"},
 "encoding":{"x":{"field":"i","type":"quantitative","title":null,"scale":{"domain":[-0.325,465.675],"nice":false,"zero":false}},
  "y":{"field":"p","type":"quantitative","title":null,"scale":{"domain":[54.206,67.242],"nice":false,"zero":false}},"text":{"field":"t"}}},
{"data":{"values":[{"i":4.6,"p":67.07,"t":"OIL.WTI+,H4  59.09 59.09 59.06 59.06"}]},
 "mark":{"type":"text","color":"black","fontSize":11.5,"align":"left","baseline":"middle"},
 "encoding":{"x":{"field":"i","type":"quantitative","title":null,"scale":{"domain":[-0.325,465.675],"nice":false,"zero":false}},
  "y":{"field":"p","type":"quantitative","title":null,"scale":{"domain":[54.206,67.242],"nice":false,"zero":false}},"text":{"field":"t"}}},
{"data":{"values":[{"i":1.75,"p":67.08}]},
 "mark":{"type":"point","shape":"triangle-down","filled":true,"color":"black","opacity":1,"size":49},
 "encoding":{"x":{"field":"i","type":"quantitative","title":null,"scale":{"domain":[-0.325,465.675],"nice":false,"zero":false}},
  "y":{"field":"p","type":"quantitative","title":null,"scale":{"domain":[54.206,67.242],"nice":false,"zero":false}}}},
{"data":{"values":[{"i":371.9,"p":67.19}]},
 "mark":{"type":"point","shape":"triangle-down","filled":true,"color":"#B0B0B0","opacity":1,"size":64},
 "encoding":{"x":{"field":"i","type":"quantitative","title":null,"scale":{"domain":[-0.325,465.675],"nice":false,"zero":false}},
  "y":{"field":"p","type":"quantitative","title":null,"scale":{"domain":[54.206,67.242],"nice":false,"zero":false}}}}
]
}
